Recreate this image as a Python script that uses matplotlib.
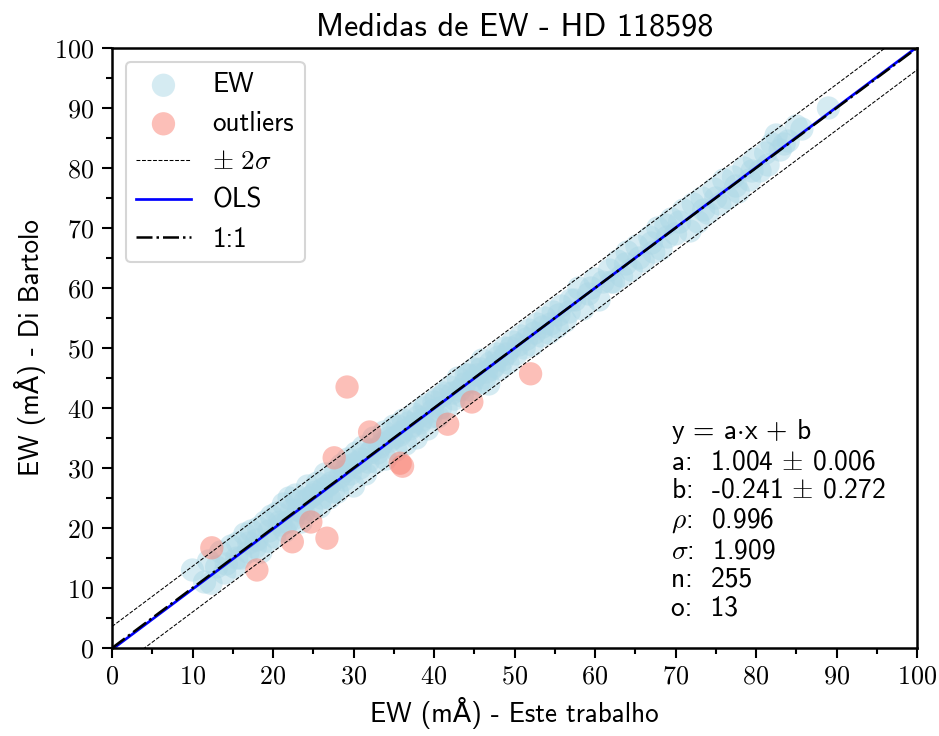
"""
Comparison of equivalent widths (EW) measured in this work
against the values from Di Bartolo for HD 118598.
"""
import matplotlib
matplotlib.use('Agg')
import matplotlib.pyplot as plt
from matplotlib.ticker import MultipleLocator, FuncFormatter

# EW points kept in the fit (x: this work, y: Di Bartolo), in mA
ew_x = [10.0, 11.5, 12.0, 12.3, 13.0, 13.5, 14.2, 14.8, 15.2, 15.6,
        16.0, 16.5, 16.9, 17.3, 17.8, 18.2, 18.5, 19.0, 19.3, 19.8,
        20.2, 20.5, 21.0, 21.3, 21.8, 22.0, 22.5, 22.8, 23.2, 23.5,
        24.0, 24.3, 24.8, 25.0, 25.5, 25.8, 26.2, 26.5, 27.0, 27.2,
        27.8, 28.0, 28.5, 28.8, 29.3, 29.6, 30.0, 30.3,
        30.8, 31.2, 31.5, 32.0, 32.5, 32.8, 33.3, 33.8, 34.0, 34.5,
        35.0, 35.3, 35.8, 36.2, 36.5, 37.0, 37.5, 37.8, 38.3, 38.8,
        39.2, 39.6, 40.0,
        40.5, 41.0, 41.5, 42.0, 42.5, 43.0, 43.5, 44.0, 44.5, 45.0,
        45.5, 46.0, 46.3, 46.8, 47.2, 47.8, 48.2, 48.8, 49.2, 49.8,
        50.2, 50.8, 51.2, 51.8, 52.2, 52.8, 53.3, 53.8, 54.3, 54.8,
        55.3, 55.8, 56.3, 57.0, 58.0, 58.5, 59.2, 60.0, 60.5,
        61.0, 61.8, 62.3, 62.8, 63.3, 64.0, 64.5, 65.2, 66.0, 66.8,
        67.3, 67.8, 68.2, 68.8, 69.5, 70.0,
        71.0, 71.8, 72.2, 72.8, 73.3, 74.0, 74.8, 75.5, 76.0, 76.5,
        77.2, 77.8, 78.5, 79.2, 79.8, 80.5,
        81.2, 82.0, 82.5, 83.0, 84.0, 85.0, 85.7, 89.0,
        14.0, 15.5, 17.0, 18.0, 19.5, 20.8, 21.5, 22.3, 23.0, 23.8,
        24.5, 25.3, 26.0, 26.8, 27.5, 28.3, 29.0, 29.8, 30.5, 31.0,
        31.8, 32.3, 33.0, 33.5, 34.3, 35.0, 35.5, 36.0, 36.8, 37.3,
        38.0, 38.5, 39.0, 39.8, 40.3, 40.8, 41.3, 42.3, 43.2, 43.8,
        44.3, 44.8, 45.3, 45.8, 46.5, 47.0, 47.5, 48.0, 48.5, 49.0,
        49.5, 50.5, 51.5, 52.5, 53.5, 54.5, 55.5, 56.8, 57.5, 59.5,
        62.0, 63.8, 65.5, 67.0, 69.0, 70.5, 73.5, 75.0, 77.5, 79.5,
        81.5, 83.5]
ew_y = [13.0, 11.0, 14.5, 10.8, 13.5, 16.0, 14.0, 17.0, 13.5, 17.5,
        15.0, 19.0, 16.0, 19.5, 16.8, 20.0, 16.0, 21.0, 17.8, 22.0,
        18.5, 22.5, 20.5, 24.0, 21.0, 25.0, 21.5, 25.5, 23.0, 21.0,
        24.5, 27.0, 23.0, 25.5, 27.5, 23.5, 26.5, 29.0, 25.0, 27.5,
        29.5, 26.0, 30.5, 28.0, 31.5, 29.0, 27.0, 32.5,
        30.0, 33.5, 29.0, 32.5, 35.0, 31.0, 33.5, 36.0, 31.5, 34.5,
        37.0, 33.0, 35.5, 38.0, 34.0, 36.5, 39.0, 35.0, 37.5, 40.0,
        36.5, 38.5, 41.0,
        38.5, 42.0, 40.0, 43.5, 41.5, 45.0, 42.0, 45.5, 43.0, 46.5,
        44.0, 48.0, 45.0, 44.0, 46.5, 49.0, 46.5, 50.0, 47.5, 51.0,
        49.0, 52.0, 50.0, 53.0, 50.5, 54.0, 52.0, 55.0, 52.5, 56.0,
        53.5, 57.0, 54.5, 58.0, 60.0, 56.5, 59.0, 61.5, 58.0,
        61.0, 63.0, 61.0, 64.5, 62.0, 66.0, 63.0, 67.0, 64.5, 68.5,
        66.0, 70.0, 66.5, 70.5, 71.5, 69.0,
        73.0, 69.5, 74.0, 71.0, 75.0, 72.5, 76.5, 74.0, 78.0, 75.0,
        78.5, 76.0, 80.0, 78.0, 81.5, 79.5,
        82.5, 84.0, 85.5, 83.0, 84.5, 87.0, 86.5, 90.0,
        12.5, 15.0, 17.5, 18.0, 19.5, 21.0, 19.5, 23.0, 24.5, 22.5,
        25.0, 26.0, 25.0, 27.0, 26.0, 28.5, 29.5, 30.5, 31.0, 31.5,
        31.0, 33.0, 32.5, 34.0, 35.0, 35.0, 37.0, 36.0, 37.5, 37.0,
        38.5, 38.0, 40.5, 39.5, 41.5, 40.0, 42.5, 42.5, 43.0, 44.0,
        45.5, 44.5, 45.5, 46.5, 46.0, 47.5, 47.0, 48.5, 48.0, 49.0,
        50.0, 50.5, 51.5, 52.5, 53.5, 54.0, 55.5, 56.0, 58.0, 60.0,
        61.0, 64.0, 65.0, 67.5, 68.5, 71.0, 73.0, 75.0, 77.0, 79.5,
        80.5, 84.0]

# points rejected by the 2 sigma cut
out_x = [12.4, 18.0, 22.4, 24.7, 26.7, 27.6, 29.2, 32.0, 35.8, 36.1,
         41.7, 44.7, 52.0]
out_y = [16.7, 13.0, 17.7, 21.0, 18.3, 31.7, 43.5, 36.0, 30.8, 30.3,
         37.3, 41.0, 45.7]

# fit results (y = a*x + b)
a = 1.004
a_err = 0.006
b = -0.241
b_err = 0.272
rho = 0.996
sigma = 1.909
n_pts = 255
n_out = 13

line_x = [0, 100]

plt.rcParams['font.family'] = ['cmss10', 'DejaVu Sans']
plt.rcParams['mathtext.fontset'] = 'cm'
plt.rcParams['axes.unicode_minus'] = False
plt.rcParams['font.size'] = 13

fig = plt.figure(figsize=(939 / 150., 736 / 150.), dpi=150)
ax = fig.add_axes([112 / 939., 1 - 648 / 736., 805 / 939., 600 / 736.])

ax.scatter(ew_x, ew_y, s=125, color='lightblue', alpha=0.5,
           edgecolors='none', label='EW')
ax.scatter(out_x, out_y, s=125, color='salmon', alpha=0.5,
           edgecolors='none', label='outliers')

fit_y = [a * v + b for v in line_x]
ax.plot(line_x, [v + 2 * sigma for v in fit_y], 'k--', lw=0.5,
        label=r'$\pm\ 2\sigma$')
ax.plot(line_x, [v - 2 * sigma for v in fit_y], 'k--', lw=0.5)
ax.plot(line_x, fit_y, color='blue', lw=1.3, label='OLS')
ax.plot(line_x, line_x, 'k-.', lw=1.2, label='1:1')

ax.set_xlim(0, 100)
ax.set_ylim(0, 100)
ax.xaxis.set_major_locator(MultipleLocator(10))
ax.yaxis.set_major_locator(MultipleLocator(10))
ax.xaxis.set_minor_locator(MultipleLocator(5))
ax.yaxis.set_minor_locator(MultipleLocator(5))
fmt = FuncFormatter(lambda v, p: r'$%d$' % v)
ax.xaxis.set_major_formatter(fmt)
ax.yaxis.set_major_formatter(fmt)
ax.tick_params(which='major', length=5, width=1, labelsize=12.5)
ax.tick_params(which='minor', length=3, width=1)
for sp in ax.spines.values():
    sp.set_linewidth(1.2)

ax.set_xlabel(u'EW (m\u00c5) - Este trabalho')
ax.set_ylabel(u'EW (m\u00c5) - Di Bartolo')
ax.set_title('Medidas de EW - HD 118598', fontsize=15.4)

ax.legend(loc='upper left', fontsize=13)

txt = '\n'.join([
    r'y = a$\cdot$x + b',
    r'a:  %.3f $\pm$ %.3f' % (a, a_err),
    r'b:  %.3f $\pm$ %.3f' % (b, b_err),
    r'$\rho$:  %.3f' % rho,
    r'$\sigma$:  %.3f' % sigma,
    'n:  %d' % n_pts,
    'o:  %d' % n_out])
ax.text(0.695, 0.385, txt, transform=ax.transAxes, va='top', ha='left',
        fontsize=13.2, linespacing=1.17)

fig.savefig('out.png', dpi=150)
